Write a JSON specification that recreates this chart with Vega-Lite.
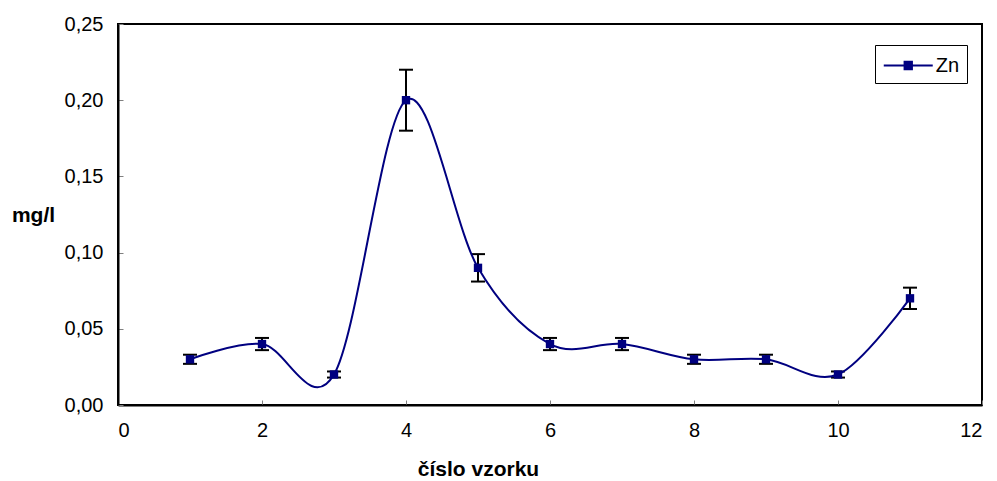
{
  "$schema": "https://vega.github.io/schema/vega-lite/v6.json",
  "width": 864,
  "height": 381,
  "autosize": {"type": "none"},
  "padding": {"left": 118, "top": 24, "right": 15, "bottom": 76},
  "background": "white",
  "config": {
    "view": {"stroke": "black", "strokeWidth": 2},
    "font": "Liberation Sans",
    "axis": {
      "grid": false,
      "domainColor": "black",
      "domainWidth": 2,
      "tickColor": "#808080",
      "tickSize": -5,
      "tickWidth": 1,
      "labelFont": "Liberation Sans",
      "labelFontSize": 20,
      "labelColor": "black",
      "titleFont": "Liberation Sans",
      "titleFontSize": 21,
      "titleFontWeight": "bold",
      "titleColor": "black"
    }
  },
  "data": {
    "values": [
      {"vzorek": 1, "zn": 0.03, "lo": 0.027, "hi": 0.033},
      {"vzorek": 2, "zn": 0.04, "lo": 0.036, "hi": 0.044},
      {"vzorek": 3, "zn": 0.02, "lo": 0.018, "hi": 0.022},
      {"vzorek": 4, "zn": 0.20, "lo": 0.18, "hi": 0.22},
      {"vzorek": 5, "zn": 0.09, "lo": 0.081, "hi": 0.099},
      {"vzorek": 6, "zn": 0.04, "lo": 0.036, "hi": 0.044},
      {"vzorek": 7, "zn": 0.04, "lo": 0.036, "hi": 0.044},
      {"vzorek": 8, "zn": 0.03, "lo": 0.027, "hi": 0.033},
      {"vzorek": 9, "zn": 0.03, "lo": 0.027, "hi": 0.033},
      {"vzorek": 10, "zn": 0.02, "lo": 0.018, "hi": 0.022},
      {"vzorek": 11, "zn": 0.07, "lo": 0.063, "hi": 0.077}
    ]
  },
  "encoding": {
    "x": {
      "field": "vzorek",
      "type": "quantitative",
      "scale": {"domain": [0, 12], "nice": false},
      "axis": {
        "values": [0, 2, 4, 6, 8, 10, 12],
        "title": "číslo vzorku",
        "labelPadding": 20,
        "titleX": 360,
        "titleY": 64,
        "titleBaseline": "middle",
        "titleAlign": "center"
      }
    }
  },
  "layer": [
    {
      "mark": {
        "type": "errorbar",
        "rule": {"color": "black", "strokeWidth": 2, "opacity": 1},
        "ticks": {"size": 14, "thickness": 2, "color": "black", "opacity": 1}
      },
      "encoding": {
        "y": {"field": "lo", "type": "quantitative", "title": "mg/l"},
        "y2": {"field": "hi"}
      }
    },
    {
      "mark": {"type": "line", "interpolate": "cardinal", "color": "#000080", "strokeWidth": 2},
      "encoding": {
        "y": {"field": "zn", "type": "quantitative", "title": "mg/l"}
      }
    },
    {
      "mark": {"type": "point", "shape": "square", "filled": true, "size": 70, "opacity": 1},
      "encoding": {
        "y": {
          "field": "zn",
          "type": "quantitative",
          "title": "mg/l",
          "scale": {"domain": [0, 0.25], "nice": false},
          "axis": {
            "values": [0, 0.05, 0.1, 0.15, 0.2, 0.25],
            "labelExpr": "replace(format(datum.value, '.2f'), '.', ',')",
            "labelPadding": 20,
            "titleAngle": 0,
            "titleX": -85,
            "titleY": 191,
            "titleAlign": "center",
            "titleBaseline": "middle"
          }
        },
        "color": {
          "datum": "Zn",
          "type": "nominal",
          "scale": {"range": ["#000080"]},
          "legend": {
            "title": null,
            "orient": "none",
            "legendX": 757,
            "legendY": 21,
            "strokeColor": "black",
            "fillColor": "white",
            "padding": 7,
            "symbolType": "M-2,0H2M-0.3,-0.3H0.3V0.3H-0.3Z",
            "symbolSize": 600,
            "symbolOffset": 12.75,
            "symbolStrokeColor": "#000080",
            "symbolFillColor": "#000080",
            "symbolStrokeWidth": 2,
            "labelFont": "Liberation Sans",
            "labelFontSize": 20,
            "labelColor": "black",
            "labelOffset": 14
          }
        }
      }
    }
  ]
}
